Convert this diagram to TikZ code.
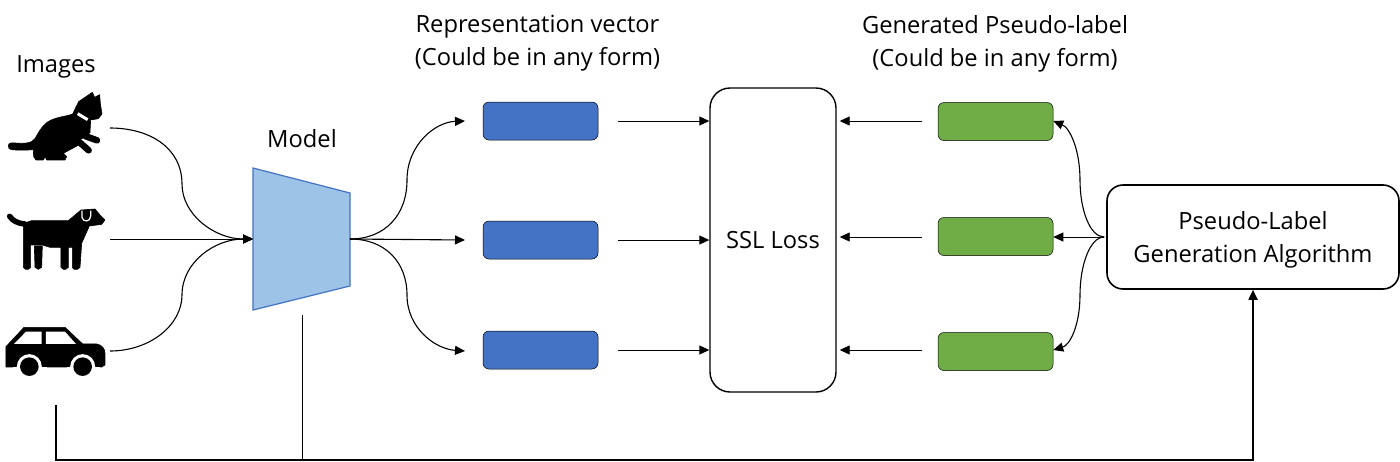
\documentclass[tikz,border=0pt]{standalone}
\usepackage{fontspec}
\setmainfont{Open Sans}
\usetikzlibrary{arrows.meta}
\definecolor{bluebox}{HTML}{4472C4}
\definecolor{greenbox}{HTML}{70AD47}
\definecolor{modelfill}{HTML}{9DC3E6}
\tikzset{
  x=1pt,y=-1pt,
  lbl/.style={inner sep=0pt,align=center,font=\fontsize{23.7}{33}\selectfont,text=black},
  bluerect/.style={draw=black,line width=0.5pt,fill=bluebox,rounded corners=6pt,minimum width=115pt,minimum height=38pt,inner sep=0pt},
  greenrect/.style={draw=black,line width=0.5pt,fill=greenbox,rounded corners=6pt,minimum width=115pt,minimum height=38pt,inner sep=0pt},
  conn/.style={draw=black,line width=1.1pt},
  arr/.style={conn,-{Triangle[length=10pt,width=9pt]}},
  sarr/.style={arr,line width=0.9pt},
  busline/.style={draw=black,line width=1.8pt},
  silh/.style={fill=black,draw=black,line width=0.6pt,line join=round}
}
\begin{document}
\begin{tikzpicture}
\useasboundingbox (0,0) rectangle (1400,461);
% cat
\begin{scope}[shift={(0,40)},x=0.3333pt,y=-0.3333pt]
\fill[silh] (25,318) .. controls (25,308) and (35,308) .. (45,309) .. controls (70,311) and (95,311) .. (105,296)
 .. controls (115,278) and (125,260) .. (140,248) .. controls (165,230) and (195,231) .. (218,222)
 -- (236,185) -- (277,157) -- (284,172) -- (299,164) -- (301,190) -- (306,222) -- (295,236) -- (272,240)
 -- (270,278) -- (240,300) -- (236,315)
 -- (190,340) -- (200,350) -- (195,360) -- (140,360) -- (136,350) -- (130,360) -- (108,360) -- (101,350) -- (100,329)
 .. controls (75,331) and (50,331) .. (35,329) .. controls (28,328) and (25,325) .. (25,318) -- cycle;
\draw[black,line width=6.5pt,line cap=round] (255,288) -- (291,301);
\draw[black,line width=6.5pt,line cap=round] (240,308) -- (266,331);
\draw[white,line width=3pt] (233,221) -- (263,239);
\end{scope}
% dog
\begin{scope}[shift={(0,190)},x=0.3333pt,y=-0.3333pt]
\draw[black,line width=5.5pt,line cap=round] (29,79) .. controls (38,92) and (52,100) .. (75,102);
\fill[silh] (70,100) -- (95,92) -- (205,92) -- (243,60) -- (285,57) -- (300,75) -- (315,90) -- (305,103) -- (268,108)
 -- (245,160) -- (240,232) -- (232,238) -- (222,238) -- (217,232) -- (217,172) -- (205,172) -- (205,232) -- (197,238) -- (190,238) -- (183,232)
 -- (183,172) -- (150,172) -- (127,165) -- (103,165) -- (92,165) -- (92,232) -- (85,238) -- (77,238) -- (70,232) -- cycle;
\fill[silh] (103,168) -- (127,168) -- (125,232) -- (115,238) -- (105,232) -- cycle;
\draw[white,line width=1.2pt] (246,62) -- (246,82) .. controls (248,97) and (272,97) .. (272,78) -- (272,62);
\end{scope}
% car
\begin{scope}[shift={(0,190)},x=0.3333pt,y=-0.3333pt]
\fill[silh] (18,470) -- (72,412) -- (195,412) -- (248,462) -- (290,462) .. controls (305,465) and (315,475) .. (315,490) -- (315,525) -- (305,531) -- (18,531) -- cycle;
\fill[white] (42,462) -- (78,425) -- (125,425) -- (125,462) -- cycle;
\fill[white] (138,425) -- (195,425) -- (228,462) -- (138,462) -- cycle;
\fill[white] (88,530) circle[radius=12.5pt];
\fill[white] (248,530) circle[radius=12.5pt];
\fill[white] (40,531) rectangle (140,545);
\fill[white] (200,531) rectangle (300,545);
\fill[black] (88,530) circle[radius=9.3pt];
\fill[black] (248,530) circle[radius=9.3pt];
\end{scope}
% anchors of the pictures
\coordinate (catout) at (110,128);
\coordinate (dogout) at (110,239);
\coordinate (carout) at (110,351);
\coordinate (carbus) at (56,405);
\coordinate (modelin) at (253,239);
\coordinate (modelout) at (350,239);
\coordinate (modelbus) at (302,315);
\coordinate (buscorner) at (56,460);
% labels
\node[lbl] (images) at (56,66.5) {Images};
\node[lbl] (modellbl) at (302,139) {Model};
\node[lbl] (replbl) at (537.5,43.5) {Representation vector\\(Could be in any form)};
\node[lbl] (genlbl) at (995,43.5) {Generated Pseudo-label\\(Could be in any form)};
% model
\filldraw[fill=modelfill,draw=bluebox,line width=1.2pt,line join=miter] (253,168) -- (350,193) -- (350,286) -- (253,310) -- cycle;
% boxes
\node[bluerect] (b1) at (540.5,121) {};
\node[bluerect] (b2) at (540.5,240) {};
\node[bluerect] (b3) at (540.5,350) {};
\node[greenrect] (g1) at (995.5,121.5) {};
\node[greenrect] (g2) at (995.5,236.5) {};
\node[greenrect] (g3) at (995.5,351.5) {};
\node[draw=black,line width=1.4pt,rounded corners=20pt,minimum width=126pt,minimum height=304pt,inner sep=0pt,lbl] (ssl) at (773,240) {\raisebox{-1pt}{SSL Loss}};
\node[draw=black,line width=1.6pt,rounded corners=16pt,minimum width=292pt,minimum height=104pt,inner sep=0pt,
  label={[lbl,name=pltext,yshift=-3pt]center:{Pseudo-Label\\Generation Algorithm}}] (pl) at (1253,237) {};
% images to model
\draw[arr] (catout) .. controls (150,128) and (182,148) .. (182,184) .. controls (182,215) and (215,239) .. (modelin);
\draw[sarr] (dogout) -- (modelin);
\draw[arr] (carout) .. controls (150,351) and (182,325) .. (182,295) .. controls (182,262) and (215,239) .. (modelin);
% model to representation
\draw[arr] (modelout) .. controls (385,239) and (407,215) .. (407,180) .. controls (407,145) and (435,122) .. (465,121);
\draw[arr] (modelout) -- (465,240);
\draw[arr] (modelout) .. controls (385,239) and (407,262) .. (407,295) .. controls (407,328) and (435,349) .. (465,351);
% representation to loss
\coordinate (b1s) at ([xshift=20pt]b1.east);
\coordinate (b2s) at ([xshift=20pt]b2.east);
\coordinate (b3s) at ([xshift=20pt]b3.east);
\draw[sarr] (b1s) -- (b1s -| ssl.west);
\draw[sarr] (b2s) -- (b2s -| ssl.west);
\draw[sarr] (b3s) -- (b3s -| ssl.west);
% labels to loss
\coordinate (g1s) at (922,121);
\coordinate (g2s) at (922,237);
\coordinate (g3s) at (922,350);
\draw[sarr] (g1s) -- ([xshift=3pt]g1s -| ssl.east);
\draw[sarr] (g2s) -- ([xshift=3pt]g2s -| ssl.east);
\draw[sarr] (g3s) -- ([xshift=3pt]g3s -| ssl.east);
% generator to labels
\draw[arr] ([xshift=-2pt]pl.west) .. controls (1090,237) and (1080,210) .. (1080,180) .. controls (1080,150) and (1070,128) .. (g1.east |- 0,121);
\draw[sarr] ([xshift=-2pt]pl.west) -- (g2.east |- 0,237);
\draw[arr] ([xshift=-2pt]pl.west) .. controls (1090,237) and (1080,265) .. (1080,295) .. controls (1080,325) and (1070,345) .. (g3.east |- 0,350);
% bottom bus
\draw[busline,line join=miter,-{Triangle[length=10pt,width=9pt]}] (carbus) -- (buscorner) -- (buscorner -| pl.south) -- (pl.south);
\draw[conn,line width=0.9pt] (modelbus) -- (modelbus |- buscorner);
\end{tikzpicture}
\end{document}
